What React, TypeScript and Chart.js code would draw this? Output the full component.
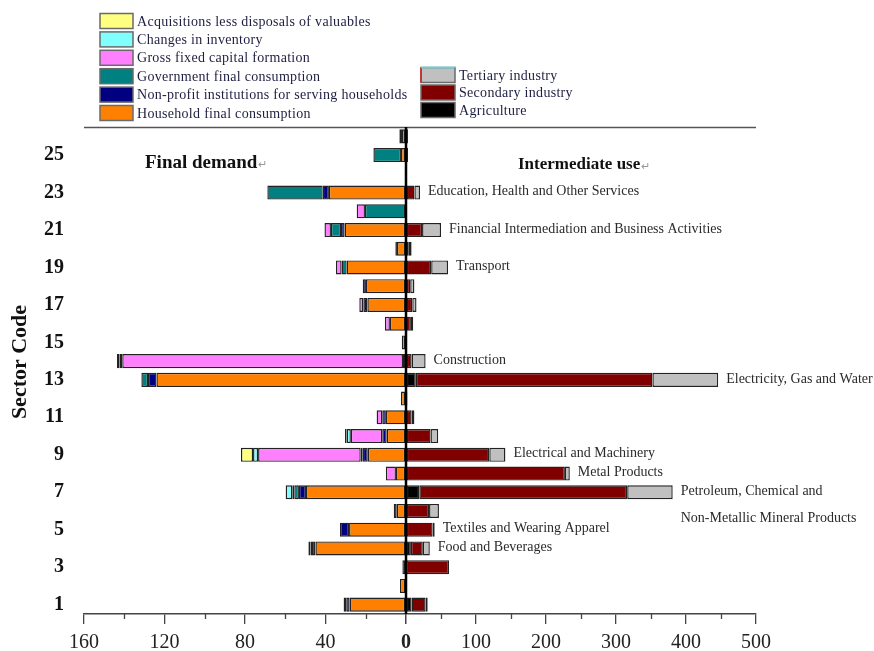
import React, { useEffect, useRef } from 'react';
import { Chart, registerables } from 'chart.js';

Chart.register(...registerables);

const FONT = "'Liberation Serif', 'Times New Roman', Times, serif";

// ---- categories ----
const sectorCodes = ['1', '2', '3', '4', '5', '6', '7', '8', '9', '10', '11', '12', '13',
  '14', '15', '16', '17', '18', '19', '20', '21', '22', '23', '24', '25', '26'];

// ---- final demand (left side, drawn from 0 outward in this order) ----
const household = [28, 3, 1.8, 45, 28.3, 4.6, 49.7, 5, 19, 9.6, 10, 2.5, 124, 0, 2.1, 8, 19.2, 19.9, 29.5, 4.5, 30.5, 0, 38.3, 0.6, 2.5, 2];
const nonProfit = [1.7, 0, 0, 1.7, 4.5, 1.5, 3.5, 0, 2.5, 2.2, 1.8, 0, 4.2, 0, 0, 0, 2, 1.6, 0, 0.8, 1.8, 0, 3.1, 0, 0, 0];
const government = [0, 0, 0, 0.8, 0, 0, 2.3, 0, 1, 0, 0, 0, 3.3, 1.5, 0, 0, 0, 0, 2.5, 0, 5, 20.4, 27.5, 0, 13.7, 0];
const grossFixed = [1.3, 0, 0, 0, 0, 0, 1, 5, 51, 15.6, 2.8, 0, 0, 139.5, 0, 2.5, 2, 0, 2.8, 0, 3.2, 4.1, 0, 0, 0, 1.3];
const inventory = [0, 0, 0, 1, 0, 0, 3.3, 0, 2.5, 2.1, 0, 0, 0, 1.3, 0, 0, 0, 0, 0, 0, 0, 0, 0, 0, 0, 0];
const valuables = [0, 0, 0, 0, 0, 0, 0, 0, 6, 0.8, 0, 0, 0, 1.3, 0, 0, 0, 0, 0, 0, 0, 0, 0, 0, 0, 0];

// ---- intermediate use (right side) ----
const agriculture = [8, 0, 0.5, 7, 0, 0, 19, 0, 0, 0, 0, 0, 14, 0, 0, 0, 0, 0, 0, 0, 0, 0, 0, 0, 0, 1.5];
const secondary = [20, 1.5, 61, 17, 38, 33, 297, 227, 119, 35, 8, 2, 338, 8, 0, 7, 9, 6, 36, 4, 23, 0, 12, 0, 3, 1.5];
const tertiary = [3, 0, 0, 10, 3, 14, 65, 7, 23, 11, 4, 0, 94, 20, 0, 3.3, 6, 6, 24, 4, 27, 0, 8, 0, 0, 0];

// ---- axis ticks ----
const leftTicks = [0, 40, 80, 120, 160];
const leftMinorTicks = [20, 60, 100, 140];
const rightTicks = [0, 100, 200, 300, 400, 500];
const rightMinorTicks = [50, 150, 250, 350, 450];

// ---- series names / colours ----
const demandNames = ['Household final consumption', 'Non-profit institutions for serving households',
  'Government final consumption', 'Gross fixed capital formation', 'Changes in inventory',
  'Acquisitions less disposals of valuables'];
const demandColors = ['#FF8000', '#000080', '#008080', '#FF80FF', '#80FFFF', '#FFFF80'];
const useNames = ['Agriculture', 'Secondary industry', 'Tertiary industry'];
const useColors = ['#000000', '#800000', '#C0C0C0'];

// ---- sector annotations ----
const labelSectors = [23, 21, 19, 14, 13, 9, 8, 7, 5, 4];
const labelTexts = ['Education, Health and Other Services', 'Financial Intermediation and Business Activities',
  'Transport', 'Construction', 'Electricity, Gas and Water', 'Electrical and Machinery', 'Metal Products',
  'Petroleum, Chemical and', 'Textiles and Wearing Apparel', 'Food and Beverages'];
const continuationSector = 7;
const continuationText = 'Non-Metallic Mineral Products';

const demandSeries = [household, nonProfit, government, grossFixed, inventory, valuables];
const useSeries = [agriculture, secondary, tertiary];

const decorPlugin = {
  id: 'decor',
  afterDatasetsDraw(chart: any) {
    const { ctx, chartArea, scales } = chart;
    const xL = scales.xL, xR = scales.xR, y = scales.y;
    ctx.save();
    // top frame line
    ctx.strokeStyle = '#555';
    ctx.lineWidth = 1.5;
    ctx.beginPath();
    ctx.moveTo(chartArea.left, chartArea.top + 0.5);
    ctx.lineTo(chartArea.right, chartArea.top + 0.5);
    ctx.stroke();
    // zero line
    const x0 = xR.getPixelForValue(0);
    ctx.strokeStyle = '#000';
    ctx.lineWidth = 2.5;
    ctx.beginPath();
    ctx.moveTo(x0, chartArea.top);
    ctx.lineTo(x0, chartArea.bottom);
    ctx.stroke();
    // minor ticks
    ctx.strokeStyle = '#444';
    ctx.lineWidth = 1.3;
    ctx.beginPath();
    leftMinorTicks.forEach((v) => {
      const px = Math.round(xL.getPixelForValue(v)) + 0.5;
      ctx.moveTo(px, chartArea.bottom);
      ctx.lineTo(px, chartArea.bottom + 5);
    });
    rightMinorTicks.forEach((v) => {
      const px = Math.round(xR.getPixelForValue(v)) + 0.5;
      ctx.moveTo(px, chartArea.bottom);
      ctx.lineTo(px, chartArea.bottom + 5);
    });
    ctx.stroke();

    // sector annotations
    ctx.fillStyle = '#2a2a2a';
    ctx.font = `14px ${FONT}`;
    ctx.textBaseline = 'middle';
    ctx.textAlign = 'left';
    let contX = 0, contY = 0;
    labelSectors.forEach((s, i) => {
      const idx = s - 1;
      const total = agriculture[idx] + secondary[idx] + tertiary[idx];
      const px = xR.getPixelForValue(total) + 8;
      const py = y.getPixelForValue(idx) - 1;
      ctx.fillText(labelTexts[i], px, py);
      if (s === continuationSector) { contX = px; contY = py; }
    });
    ctx.fillText(continuationText, contX, contY + 27);
    ctx.restore();
  },
  afterDraw(chart: any) {
    const { ctx } = chart;
    ctx.save();
    // y axis title
    ctx.save();
    ctx.translate(20, 362);
    ctx.rotate(-Math.PI / 2);
    ctx.fillStyle = '#111';
    ctx.font = `bold 22px ${FONT}`;
    ctx.textAlign = 'center';
    ctx.textBaseline = 'middle';
    ctx.fillText('Sector Code', 0, 0);
    ctx.restore();

    // headings
    ctx.fillStyle = '#111';
    ctx.textBaseline = 'middle';
    ctx.textAlign = 'left';
    ctx.font = `bold 19px ${FONT}`;
    ctx.fillText('Final demand', 145, 163);
    let w = ctx.measureText('Final demand').width;
    ctx.fillStyle = '#999';
    ctx.font = `11px ${FONT}`;
    ctx.fillText('\u21B5', 145 + w + 1, 165);
    ctx.fillStyle = '#111';
    ctx.font = `bold 17px ${FONT}`;
    ctx.fillText('Intermediate use', 518, 165);
    w = ctx.measureText('Intermediate use').width;
    ctx.fillStyle = '#999';
    ctx.font = `11px ${FONT}`;
    ctx.fillText('\u21B5', 518 + w + 1, 167);

    // legend, left column (outermost series first)
    ctx.font = `14px ${FONT}`;
    (ctx as any).letterSpacing = '0.3px';
    const leftOrder = [5, 4, 3, 2, 1, 0];
    leftOrder.forEach((di, row) => {
      const cy = 21 + row * 18.4;
      ctx.fillStyle = demandColors[di];
      ctx.fillRect(100, cy - 7.5, 33, 15);
      ctx.strokeStyle = '#6a6a6a';
      ctx.lineWidth = 1.5;
      ctx.strokeRect(100, cy - 7.5, 33, 15);
      ctx.fillStyle = '#1e1e40';
      ctx.fillText(demandNames[di], 137, cy + 1);
    });
    // legend, right column
    const rightOrder = [2, 1, 0];
    rightOrder.forEach((di, row) => {
      const cy = 75 + row * 17.5;
      ctx.fillStyle = useColors[di];
      ctx.fillRect(421, cy - 7.5, 34, 15);
      ctx.strokeStyle = '#6a6a6a';
      ctx.lineWidth = 1.5;
      ctx.strokeRect(421, cy - 7.5, 34, 15);
      if (row === 0) {
        ctx.strokeStyle = '#d02020';
        ctx.lineWidth = 1.5;
        ctx.beginPath();
        ctx.moveTo(421, cy - 7.5);
        ctx.lineTo(421, cy + 7.5);
        ctx.stroke();
        ctx.strokeStyle = '#40e0f0';
        ctx.beginPath();
        ctx.moveTo(421, cy - 7.5);
        ctx.lineTo(455, cy - 7.5);
        ctx.stroke();
      }
      ctx.fillStyle = '#1e1e40';
      ctx.fillText(useNames[di], 459, cy + 1);
    });
    (ctx as any).letterSpacing = '0px';
    ctx.restore();
  },
};

export default function App() {
  const canvasRef = useRef<HTMLCanvasElement | null>(null);

  useEffect(() => {
    document.body.style.margin = '0';
    document.body.style.overflow = 'hidden';
    const canvas = canvasRef.current;
    if (!canvas) return;

    const barCommon = {
      borderColor: '#222',
      borderWidth: 1.4,
      borderSkipped: false,
      barPercentage: 0.75,
      categoryPercentage: 1,
      yAxisID: 'y',
    };

    const datasets: any[] = [];
    demandSeries.forEach((data, i) => {
      datasets.push({ ...barCommon, label: demandNames[i], data, backgroundColor: demandColors[i], xAxisID: 'xL' });
    });
    useSeries.forEach((data, i) => {
      datasets.push({ ...barCommon, label: useNames[i], data, backgroundColor: useColors[i], xAxisID: 'xR' });
    });

    const tickFont = (ctx: any) => ({
      family: FONT,
      size: 20,
      weight: ctx.tick && ctx.tick.value === 0 ? 'bold' : 'normal',
    });

    const chart = new Chart(canvas, {
      type: 'bar',
      data: { labels: sectorCodes, datasets },
      plugins: [decorPlugin],
      options: {
        indexAxis: 'y',
        responsive: false,
        animation: false,
        events: [],
        layout: { padding: { top: 127, right: 118, left: 0, bottom: 0 } },
        plugins: {
          legend: { display: false },
          tooltip: { enabled: false },
          title: { display: false },
        },
        scales: {
          y: {
            type: 'category',
            reverse: true,
            stacked: true,
            grid: { display: false, drawTicks: false },
            border: { display: false },
            ticks: {
              autoSkip: false,
              padding: 20,
              color: '#111',
              font: { family: FONT, size: 20, weight: 'bold' },
              callback: (_v: any, index: number) => (index % 2 === 0 ? sectorCodes[index] : ''),
            },
            afterFit: (scale: any) => { scale.width = 84; },
          },
          xL: {
            type: 'linear',
            position: 'bottom',
            stack: 'x',
            stackWeight: 322,
            stacked: true,
            reverse: true,
            min: 0,
            max: 160,
            afterBuildTicks: (scale: any) => { scale.ticks = leftTicks.map((v) => ({ value: v })); },
            grid: { display: true, drawOnChartArea: false, drawTicks: true, tickLength: 10, color: '#444', lineWidth: 1.3 },
            border: { display: true, color: '#444', width: 1.5 },
            ticks: {
              padding: 7,
              color: '#222',
              font: tickFont,
              maxRotation: 0,
              callback: (v: any) => String(v),
            },
            afterFit: (scale: any) => { scale.height = 37; },
          },
          xR: {
            type: 'linear',
            position: 'bottom',
            stack: 'x',
            stackWeight: 350,
            stacked: true,
            min: 0,
            max: 500,
            afterBuildTicks: (scale: any) => { scale.ticks = rightTicks.map((v) => ({ value: v })); },
            grid: { display: true, drawOnChartArea: false, drawTicks: true, tickLength: 10, color: '#444', lineWidth: 1.3 },
            border: { display: true, color: '#444', width: 1.5 },
            ticks: {
              padding: 7,
              color: '#222',
              font: tickFont,
              maxRotation: 0,
              callback: (v: any) => (v === 0 ? '' : String(v)),
            },
            afterFit: (scale: any) => { scale.height = 37; },
          },
        },
      } as any,
    });

    return () => chart.destroy();
  }, []);

  return (
    <div style={{ width: 874, height: 651, position: 'relative', background: '#fff' }}>
      <canvas ref={canvasRef} width={874} height={651} style={{ display: 'block' }} />
    </div>
  );
}
